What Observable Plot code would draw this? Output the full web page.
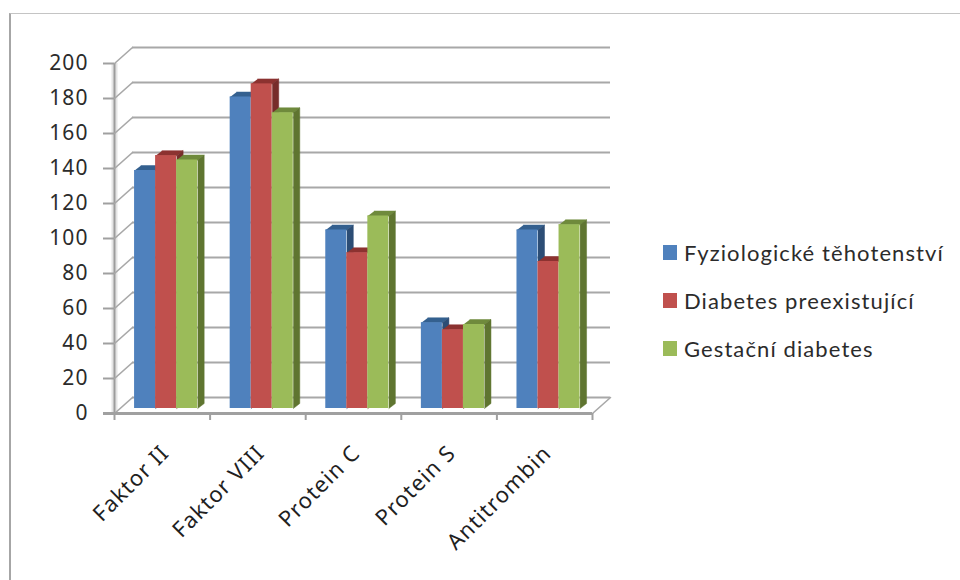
<!DOCTYPE html>
<html lang="cs">
<head>
<meta charset="utf-8">
<script src="https://cdn.jsdelivr.net/npm/d3@7"></script>
<script src="https://cdn.jsdelivr.net/npm/@observablehq/plot@0.6"></script>
<style>
  html, body { margin: 0; padding: 0; background: #fff; }
  #chart { position: relative; width: 960px; height: 580px; overflow: hidden; font-family: Lato, sans-serif; }
  #chart svg { position: absolute; left: 0; top: 0; }
  #chart svg text { letter-spacing: 1.1px; }
  #border { position: absolute; left: 9px; top: 13px; right: -5px; bottom: -5px;
            border-left: 2px solid #a6a6a6; border-top: 1px solid #c4c4c4; }
  #legend { position: absolute; left: 663px; top: 228px; color: #2b2b2b; font-size: 22px; letter-spacing: 1.1px; }
  #legend div { display: flex; align-items: center; height: 48px; white-space: nowrap; }
  #legend i { display: block; width: 14px; height: 15px; margin-right: 7px; }
</style>
</head>
<body>
<div id="chart"><div id="border"></div><div id="legend"></div></div>
<script>
const categories = ["Faktor II", "Faktor VIII", "Protein C", "Protein S", "Antitrombin"];
const seriesNames = ["Fyziologické těhotenství", "Diabetes preexistující", "Gestační diabetes"];
const physiological = [136, 178, 102, 49, 102];
const preexisting = [144.5, 185.5, 89, 45, 84];
const gestational = [142, 169, 110, 48, 105];
const yTicks = [0, 20, 40, 60, 80, 100, 120, 140, 160, 180, 200];

const seriesValues = [physiological, preexisting, gestational];
const frontColors = ["#4f81bd", "#c0504d", "#9bbb59"];
const sideColors = ["#2c4d75", "#772c2a", "#5f7530"];
const topColors = ["#34608f", "#8c3230", "#6f8a3c"];

// Chart frame in pixels; the x scale counts category slots.
const frameLeft = 114, frameRight = 592, frameTop = 63, frameBottom = 413;
const pxX = (frameRight - frameLeft) / categories.length;
const pxY = (frameBottom - frameTop) / 200;

// Oblique projection: the wall sits behind the axes, bars stand on the floor.
const wallDx = 18 / pxX, wallDy = 16 / pxY;
const barDepthX = 6.5 / pxX, barDepthY = 5 / pxY;
const barLift = 5;
const barStart = 0.21, barWidth = 0.22;

const bars = seriesValues.flatMap((values, s) => values.map((value, c) => ({
  s, value, x1: c + barStart + s * barWidth, x2: c + barStart + (s + 1) * barWidth
})));

const polygon = (id, s, face, pts) => pts.map(([x, y]) => ({id, s, face, x, y}));
const polys = bars.flatMap((b, i) => [
  ...polygon(`t${i}`, b.s, topColors[b.s], [[b.x1, b.value], [b.x2, b.value], [b.x2 + barDepthX, b.value + barDepthY], [b.x1 + barDepthX, b.value + barDepthY]]),
  ...polygon(`s${i}`, b.s, sideColors[b.s], [[b.x2, 0], [b.x2 + barDepthX, barDepthY], [b.x2 + barDepthX, b.value + barDepthY], [b.x2, b.value]])
]);

const connectors = yTicks.flatMap(v => [{v, x: 0, y: v}, {v, x: wallDx, y: v + wallDy}]);
const floorEdge = [{x: 5, y: 0}, {x: 5 + wallDx, y: wallDy}];

// Draw series back to front so each bar's face hides the side of its left neighbour.
const barMarks = [0, 1, 2].flatMap(s => [
  Plot.line(polys.filter(d => d.s === s), {x: "x", y: "y", z: "id", fill: d => d.face, stroke: d => d.face, strokeWidth: 0.5, dy: -barLift}),
  Plot.rectY(bars.filter(d => d.s === s), {x1: "x1", x2: "x2", y1: 0, y2: "value", fill: frontColors[s], dy: -barLift})
]);

const plot = Plot.plot({
  width: 960,
  height: 580,
  marginLeft: frameLeft,
  marginRight: 960 - frameRight,
  marginTop: frameTop,
  marginBottom: 580 - frameBottom,
  style: {background: "transparent", overflow: "visible"},
  color: {type: "identity"},
  x: {type: "linear", domain: [0, categories.length], axis: null},
  y: {domain: [0, 200], axis: null},
  marks: [
    Plot.ruleX([0], {y1: 0, y2: 200, stroke: "#e4e4e4", strokeWidth: 6}),
    Plot.ruleX([0], {y1: 0, y2: 200, stroke: "#9c9c9c", strokeWidth: 2}),
    Plot.ruleY(yTicks, {x1: wallDx, x2: 5 + wallDx, y: d => d + wallDy, stroke: "#a8a8a8", strokeWidth: 2.2}),
    Plot.line(connectors, {x: "x", y: "y", z: "v", stroke: "#a8a8a8", strokeWidth: 1.6}),
    Plot.line(floorEdge, {x: "x", y: "y", stroke: "#a8a8a8", strokeWidth: 1.6}),
    Plot.axisY(yTicks, {
      tickSize: 11, tickPadding: 15, fontSize: 21, stroke: "#a0a0a0", strokeWidth: 2,
      color: "#2b2b2b", label: null, tickFormat: d => d
    }),
    ...barMarks,
    Plot.ruleY([0], {x1: -11 / pxX, x2: 5, stroke: "#a0a0a0", strokeWidth: 3}),
    Plot.ruleX(d3.range(0, categories.length + 1), {y1: 0, y2: -4, stroke: "#a0a0a0", strokeWidth: 2}),
    Plot.text(categories, {
      x: (d, i) => i + 0.5, y: 0, text: d => d, rotate: -45, textAnchor: "end",
      fontSize: 22, fill: "#1f1f1f", dx: 3, dy: 36
    })
  ]
});
document.getElementById("chart").appendChild(plot);

const legend = document.getElementById("legend");
seriesNames.forEach((name, s) => {
  const row = document.createElement("div");
  const swatch = document.createElement("i");
  swatch.style.background = frontColors[s];
  row.append(swatch, name);
  legend.append(row);
});
</script>
</body>
</html>
